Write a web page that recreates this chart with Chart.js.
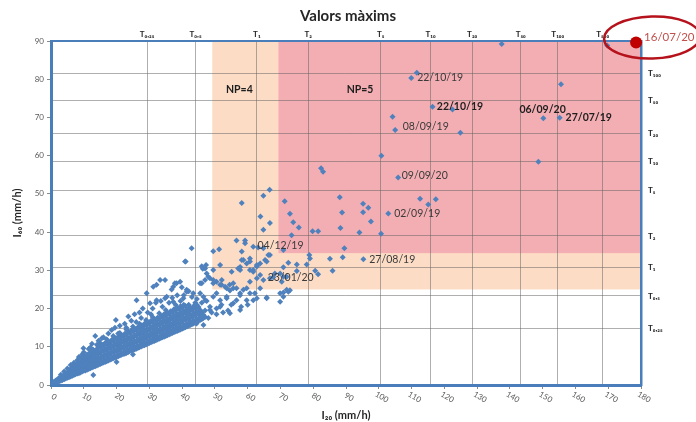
<!DOCTYPE html>
<html><head><meta charset="utf-8">
<script src="https://cdn.jsdelivr.net/npm/chart.js@4/dist/chart.umd.min.js"></script>
<style>html,body{margin:0;padding:0;background:#fff}#wrap{width:696px;height:422px}</style>
</head><body><div id="wrap"><canvas id="c" width="696" height="422"></canvas></div>
<script>
// ---------- DATA ----------
const topTickValues = [29.3,44.1,62.8,78.5,100.6,115.8,128.5,143.3,154.6,168.3];
const topTickLabels = ['T₀,₂₅','T₀,₅','T₁','T₂','T₅','T₁₀','T₂₀','T₅₀','T₁₀₀','T₅₀₀'];
const rightTickValues = [14.7,23.3,30.8,39.0,50.8,58.6,65.7,74.4,81.6];
const rightTickLabels = ['T₀,₂₅','T₀,₅','T₁','T₂','T₅','T₁₀','T₂₀','T₅₀','T₁₀₀'];

// zones: [xFrom, xTo, yFrom, yTo]
const zoneNP4 = [49.2,180,25,90];
const zoneNP5 = [69.4,180,34.5,90];

const clusterCore = [[0.5,0.3],[1,0.5],[1,0.9],[2,0.8],[2,1.5],[3,1.1],[3,2.0],[4,1.5],[4,2.6],[5,1.9],[5,3.2],[6,2.2],[6,3.4],[6,4.2],[7,2.6],[7,3.8],[7,4.9],[8,3.0],[8,4.2],[8,5.4],[9,3.3],[9,4.6],[9,5.9],[10,3.7],[10,5.0],[10,6.3],[10,7.5],[11,4.0],[11,5.3],[11,6.7],[12,4.4],[12,5.8],[12,7.2],[12,8.5],[13,4.8],[13,6.2],[13,7.6],[13,9.0],[14,5.1],[14,6.5],[14,8.0],[14,9.4],[15,5.5],[15,6.9],[15,8.4],[15,9.9],[15,11.0],[16,5.9],[16,7.3],[16,8.8],[16,10.3],[17,6.2],[17,7.7],[17,9.2],[17,10.7],[17,12.0],[18,6.6],[18,8.1],[18,9.6],[18,11.0],[19,7.0],[19,8.5],[19,10.0],[19,11.5],[19,12.8],[20,7.3],[20,8.8],[20,10.4],[20,11.9],[21,7.7],[21,9.2],[21,10.8],[21,12.3],[21,13.6],[22,8.1],[22,9.6],[22,11.2],[22,12.7],[23,8.4],[23,10.0],[23,11.6],[23,13.1],[23,14.5],[24,8.8],[24,10.4],[24,12.0],[24,13.6],[25,9.2],[25,10.8],[25,12.4],[25,14.0],[25,15.3],[26,9.5],[26,11.1],[26,12.8],[26,14.4],[27,9.9],[27,11.5],[27,13.2],[27,14.8],[27,16.0],[28,10.3],[28,11.9],[28,13.6],[28,15.2],[29,10.6],[29,12.3],[29,14.0],[29,15.6],[29,17.0],[30,11.0],[30,12.7],[30,14.4],[30,16.0],[31,11.4],[31,13.1],[31,14.8],[31,16.5],[31,17.8],[32,11.7],[32,13.4],[32,15.2],[32,16.9],[33,12.1],[33,13.8],[33,15.6],[33,17.3],[33,18.8],[34,12.5],[34,14.2],[34,16.0],[34,17.7],[35,12.8],[35,14.6],[35,16.4],[35,18.2],[35,19.6],[36,13.2],[36,15.0],[36,16.8],[36,18.6],[37,13.6],[37,15.4],[37,17.2],[37,19.0],[38,14.0],[38,15.8],[38,17.6],[38,19.5],[38,21.0],[39,14.3],[39,16.1],[39,18.0],[39,19.9],[40,14.7],[40,16.5],[40,18.4],[40,20.2],[41,15.1],[41,17.0],[41,18.8],[41,20.7],[42,15.5],[42,17.3],[42,19.2],[42,21.0],[43,15.9],[43,17.7],[43,19.6],[44,16.3],[44,18.1],[44,20.0],[44,21.5],[45,16.8],[45,18.5],[45,20.4],[46,17.2],[46,19.0],[47,17.8],[47,19.5]];

const clusterFill = [[1.5,0.7],[1.5,1.2],[2.5,1.0],[2.5,1.8],[3.5,1.3],[3.5,2.3],[4.5,1.7],[4.5,2.5],[4.5,3.0],[5.5,2.0],[5.5,2.8],[5.5,3.6],[6.5,2.4],[6.5,3.2],[6.5,4.0],[6.5,4.6],[7.5,2.8],[7.5,3.4],[7.5,4.4],[7.5,5.2],[8.5,3.1],[8.5,3.6],[8.5,4.8],[8.5,5.7],[9.5,3.5],[9.5,4.0],[9.5,5.3],[9.5,6.3],[10.5,3.8],[10.5,4.3],[10.5,5.6],[10.5,6.9],[11.5,4.2],[11.5,4.7],[11.5,6.0],[11.5,7.4],[12.5,4.6],[12.5,5.1],[12.5,6.5],[12.5,7.9],[13.5,4.9],[13.5,5.5],[13.5,6.9],[13.5,8.3],[14.5,5.3],[14.5,5.8],[14.5,7.2],[14.5,8.7],[14.5,10.0],[15.5,5.7],[15.5,6.2],[15.5,7.6],[15.5,9.1],[15.5,10.5],[16.5,6.0],[16.5,6.5],[16.5,8.0],[16.5,9.5],[16.5,11.0],[17.5,6.4],[17.5,6.9],[17.5,8.4],[17.5,9.9],[17.5,11.3],[18.5,6.8],[18.5,7.3],[18.5,8.8],[18.5,10.3],[18.5,11.8],[19.5,7.1],[19.5,7.7],[19.5,9.2],[19.5,10.7],[19.5,12.2],[20.5,7.5],[20.5,8.0],[20.5,9.6],[20.5,11.1],[20.5,12.6],[21.5,7.9],[21.5,8.4],[21.5,10.0],[21.5,11.5],[21.5,13.0],[22.5,8.2],[22.5,8.8],[22.5,10.4],[22.5,11.9],[22.5,13.4],[23.5,8.6],[23.5,9.2],[23.5,10.8],[23.5,12.3],[23.5,13.9],[24.5,9.0],[24.5,9.6],[24.5,11.2],[24.5,12.7],[24.5,14.3],[25.5,9.3],[25.5,10.0],[25.5,11.6],[25.5,13.1],[25.5,14.7],[26.5,9.7],[26.5,10.3],[26.5,12.0],[26.5,13.6],[26.5,15.1],[27.5,10.1],[27.5,10.7],[27.5,12.4],[27.5,14.0],[27.5,15.6],[28.5,10.4],[28.5,11.1],[28.5,12.8],[28.5,14.4],[28.5,16.0],[29.5,10.8],[29.5,11.5],[29.5,13.2],[29.5,14.8],[29.5,16.4],[30.5,11.2],[30.5,11.9],[30.5,13.6],[30.5,15.2],[30.5,16.8],[31.5,11.5],[31.5,12.3],[31.5,14.0],[31.5,15.6],[31.5,17.2],[32.5,11.9],[32.5,12.6],[32.5,14.4],[32.5,16.1],[32.5,17.6],[33.5,12.3],[33.5,13.0],[33.5,14.8],[33.5,16.5],[33.5,18.0],[34.5,12.6],[34.5,13.4],[34.5,15.2],[34.5,16.9],[34.5,18.5],[35.5,13.0],[35.5,13.8],[35.5,15.6],[35.5,17.3],[35.5,18.9],[36.5,13.4],[36.5,14.2],[36.5,16.0],[36.5,17.7],[36.5,19.3],[37.5,13.8],[37.5,14.6],[37.5,16.4],[37.5,18.2],[37.5,19.8],[38.5,14.1],[38.5,15.0],[38.5,16.8],[38.5,18.6],[38.5,20.2],[39.5,14.5],[39.5,15.3],[39.5,17.2],[39.5,19.0],[39.5,20.6],[40.5,14.9],[40.5,15.7],[40.5,17.6],[40.5,19.4],[40.5,21.0],[41.5,15.3],[41.5,16.1],[41.5,18.0],[41.5,19.8],[42.5,15.7],[42.5,16.5],[42.5,18.4],[42.5,20.2],[43.5,16.1],[43.5,16.9],[43.5,18.8],[43.5,20.6],[44.5,16.5],[44.5,17.3],[44.5,19.2],[44.5,20.9],[45.5,17.0],[45.5,17.7],[45.5,19.6],[46.5,17.5],[46.5,18.3]];

const clusterSparse = [[3,2.7],[4,3.5],[5,4.3],[6,5.2],[7,5.8],[8,6.5],[8.5,7.3],[9,7.0],[9.5,8.0],[10,8.6],[9.9,9.6],[11,8.0],[11.5,9.4],[12,9.8],[12.5,10.8],[12.9,9.2],[13.5,12.8],[14,10.5],[14.5,11.6],[15.5,12.2],[16,12.5],[17.5,13.5],[18.5,14.4],[19.8,17.0],[19.5,15.0],[20.5,13.5],[21,15.5],[22.5,16.0],[23.6,17.9],[23,15.0],[24.5,16.8],[25.5,18.5],[26,16.5],[26.1,22.2],[27,19.0],[27.5,17.5],[28,20.0],[29.2,24.0],[29.5,19.0],[30.2,21.4],[30.5,18.5],[31,20.0],[32,21.5],[32.2,26.2],[33.5,22.0],[34,20.5],[34.8,27.5],[35.3,23.1],[36,21.5],[37,22.8],[37.3,25.7],[38.3,26.6],[38.5,23.5],[39.5,22.0],[40.5,23.5],[41.4,24.9],[42,24.5],[43,23.0],[44.5,22.5],[45.5,24.0],[46,21.5],[47.5,22.0],[48.5,20.5],[49,19.0],[50.5,20.0],[52,21.0],[54,19.5],[55,21.0],[50.5,18.5],[52.5,19.0],[48,17.5],[58,20.5],[60,21.0],[12.9,2.6],[20,6.0],[25,8.0]];

const midEvents = [[56.6,37.8],[59.2,37.8],[49.5,35.0],[51.3,35.5],[61.7,36.2],[63.2,36.0],[64.8,35.8],[66.8,34.0],[58.7,32.7],[60.7,33.1],[59.7,31.8],[57.7,30.1],[60.7,30.1],[62.8,31.0],[47.3,31.4],[46.3,30.4],[49.5,30.1],[51.6,31.4],[47.0,27.5],[46.0,26.6],[49.5,26.6],[52.0,26.2],[54.5,26.2],[67.8,28.2],[70.9,28.3],[65.8,22.7],[70.9,23.1],[55.6,25.3],[59.7,25.3],[63.8,25.3],[62.2,24.0],[57.7,24.0],[41.1,32.3],[46.0,31.1],[48.0,28.3],[49.5,27.5],[51.6,26.2],[53.1,25.7],[55.6,26.6],[54.6,24.7],[60.7,24.0],[57.7,30.9],[61.7,30.1],[62.8,31.4],[65.8,32.3],[63.8,28.8],[69.9,29.2],[71.9,28.3],[46.5,23.1],[50.5,24.0],[53.6,23.1],[57.7,23.5],[61.7,22.2],[65.8,22.9],[69.9,24.0],[72.4,24.4],[51.6,20.5],[54.6,18.8],[57.7,19.6],[55.6,21.4],[48.5,19.6],[44.4,16.1],[46.5,15.7],[42.9,35.8],[40.9,32.3],[47.0,30.5],[58.2,34.9],[59.2,37.1],[60.7,32.3],[58.2,32.7],[57.1,30.5],[55.1,29.6],[61.7,29.6],[63.8,31.8],[65.3,32.7],[66.3,34.0],[47.5,29.2],[48.5,27.9],[50.5,27.0],[52.1,27.5],[53.6,25.3],[56.6,25.3],[58.7,24.9],[60.7,27.0],[62.8,27.9],[64.8,27.5],[66.8,27.9],[68.3,29.2],[70.4,27.0],[71.9,24.9],[31.2,25.7],[33.3,27.5],[36.8,25.0],[37.8,26.6],[39.4,27.0],[39.9,25.6],[41.4,24.4],[43.4,24.0],[45.5,26.6],[32.2,22.2],[34.8,22.7],[37.3,21.8],[40.4,22.7],[44.4,20.9],[47.0,22.2],[49.5,23.1],[51.6,22.2],[53.6,22.7],[56.6,22.2],[59.7,22.2],[62.8,22.7],[69.9,21.8]];

const highEvents = [[137.5,89.2],[169.7,88.8],[111.6,81.7],[109.9,80.3],[155.6,78.7],[116.4,72.8],[122.5,72.1],[104.2,70.2],[105.0,66.7],[124.9,66.0],[150.2,69.8],[155.2,69.9],[100.8,60.0],[148.7,58.4],[82.4,56.7],[83.0,55.8],[105.9,54.3],[112.6,48.7],[115.1,47.2],[117.4,48.6],[102.9,44.9],[88.1,49.1],[88.8,45.1],[95.2,47.4],[96.8,46.4],[95.2,45.2],[97.6,42.8],[88.3,41.1],[94.1,39.9],[100.7,39.6],[79.8,40.2],[81.5,40.2],[71.3,48.1],[72.9,44.8],[73.9,42.6],[75.6,41.2],[73.4,39.2],[66.7,51.1],[64.8,49.5],[58.2,47.6],[63.9,44.1],[66.8,42.4],[64.8,40.6],[89.5,35.8],[89.0,33.4],[85.1,33.0],[95.3,32.9],[85.9,29.9],[78.8,34.0],[79.0,33.1],[75.0,31.5],[78.0,31.5],[80.6,29.9],[81.5,29.0],[75.0,29.8],[72.4,32.0],[70.9,30.8],[70.9,35.3],[72.9,24.8],[70.9,24.2]];

const highlightEvent = [[178.5,89.6]];
const highlightLabel = '16/07/20';

const noteTexts = ['NP=4','NP=5','22/10/19','22/10/19','08/09/19','06/09/20','27/07/19','09/09/20','02/09/19','04/12/19','23/01/20','27/08/19'];
const noteX = [53.4,90.2,111.7,117.7,107.3,142.9,157.0,107.0,104.7,63.0,66.1,97.1];
const noteY = [77.4,77.4,80.3,72.8,67.6,72.1,69.9,54.7,44.9,36.4,28.2,32.9];
const noteBold = [true,true,false,true,false,true,true,false,false,false,false,false];

// ---------- CHART ----------
Chart.defaults.font.family = 'Lato, "Open Sans", "DejaVu Sans", sans-serif';
const FRAME = '#4a7ebb';
const GRID = 'rgba(95,95,95,0.5)';
const toXY = a => a.map(p => ({x:p[0], y:p[1]}));

const zonePlugin = {
  id:'zones',
  beforeDraw(chart){
    const {ctx, scales:{x,y}} = chart;
    const cols = ['#fddcc6','#f3aeb3'];
    [zoneNP4, zoneNP5].forEach((z,i)=>{
      const l=x.getPixelForValue(z[0]), r=x.getPixelForValue(z[1]);
      const t=y.getPixelForValue(z[3]), b=y.getPixelForValue(z[2]);
      ctx.save(); ctx.fillStyle=cols[i]; ctx.fillRect(l,t,r-l,b-t); ctx.restore();
    });
  }
};

const textPlugin = {
  id:'texts',
  afterDraw(chart){
    const {ctx, scales:{x,y}} = chart;
    ctx.save();
    ctx.font='8px Lato'; ctx.fillStyle='#595959'; ctx.textAlign='center'; ctx.textBaseline='middle';
    x.ticks.forEach(t=>{
      const px=x.getPixelForValue(t.value);
      ctx.save(); ctx.translate(px+3, x.top+12); ctx.rotate(Math.PI/6);
      ctx.fillText(String(t.value),0,0); ctx.restore();
    });
    ctx.textAlign='left'; ctx.textBaseline='middle';
    noteTexts.forEach((txt,i)=>{
      ctx.font=(noteBold[i]?'bold ':'')+'10.5px Lato';
      ctx.fillStyle=noteBold[i]?'#1e1e1e':'#3a3a3a';
      ctx.fillText(txt, x.getPixelForValue(noteX[i]), y.getPixelForValue(noteY[i]));
    });
    const hx=x.getPixelForValue(highlightEvent[0][0]), hy=y.getPixelForValue(highlightEvent[0][1]);
    ctx.font='11.5px Lato'; ctx.fillStyle='#c0504d';
    ctx.fillText(highlightLabel, hx+8, hy-5);
    ctx.beginPath(); ctx.ellipse(hx+16, hy-5, 48, 21, -0.03, 0, Math.PI*2);
    ctx.strokeStyle='#b5121b'; ctx.lineWidth=2.5; ctx.stroke();
    ctx.restore();
  }
};

new Chart(document.getElementById('c'), {
  type:'scatter',
  data:{datasets:[
    {data:toXY(clusterCore.concat(clusterFill, clusterSparse, midEvents, highEvents)), pointStyle:'rectRot', pointRadius:3, pointBorderWidth:0, backgroundColor:'#4f81bd', borderColor:'#4f81bd'},
    {data:toXY(highlightEvent), pointStyle:'circle', pointRadius:6, pointBorderWidth:0, backgroundColor:'#c00000', borderColor:'#c00000', clip:false}
  ]},
  options:{
    responsive:false, animation:false, devicePixelRatio:1,
    layout:{padding:0},
    plugins:{
      legend:{display:false}, tooltip:{enabled:false},
      title:{display:true, text:'Valors màxims', color:'#262626', font:{size:15, weight:'bold'}, padding:{top:7,bottom:3}}
    },
    scales:{
      x:{type:'linear', position:'bottom', min:0, max:180,
        ticks:{stepSize:10, display:false},
        grid:{drawOnChartArea:false, drawTicks:true, tickLength:4, color:'#8a8a8a'},
        border:{color:FRAME, width:3},
        title:{display:true, text:'I₂₀ (mm/h)', color:'#262626', font:{size:11, weight:'bold'}, padding:{top:0,bottom:0}},
        afterFit:s=>{s.height=37;}
      },
      y:{type:'linear', position:'left', min:0, max:90,
        ticks:{stepSize:10, color:'#595959', font:{size:8}, padding:3},
        grid:{drawOnChartArea:false, drawTicks:true, tickLength:4, color:'#8a8a8a'},
        border:{color:FRAME, width:3},
        title:{display:true, text:'I₆₀ (mm/h)', color:'#262626', font:{size:11, weight:'bold'}, padding:{top:11,bottom:0}},
        afterFit:s=>{s.width=51;}
      },
      x2:{type:'linear', position:'top', min:0, max:180,
        afterBuildTicks:s=>{s.ticks=topTickValues.map(v=>({value:v}));},
        ticks:{autoSkip:false, maxRotation:0, padding:2, color:'#262626', font:{size:8, weight:'bold'},
          callback:(v,i)=>topTickLabels[i]},
        grid:{drawOnChartArea:true, drawTicks:false, color:GRID, lineWidth:1},
        border:{color:FRAME, width:2},
        afterFit:s=>{s.height=13;}
      },
      y2:{type:'linear', position:'right', min:0, max:90,
        afterBuildTicks:s=>{s.ticks=rightTickValues.map(v=>({value:v}));},
        ticks:{autoSkip:false, padding:7, color:'#262626', font:{size:8, weight:'bold'},
          callback:(v,i)=>rightTickLabels[i]},
        grid:{drawOnChartArea:true, drawTicks:false, color:GRID, lineWidth:1},
        border:{color:FRAME, width:2.5},
        afterFit:s=>{s.width=55;}
      }
    }
  },
  plugins:[zonePlugin, textPlugin]
});
</script>
</body></html>
